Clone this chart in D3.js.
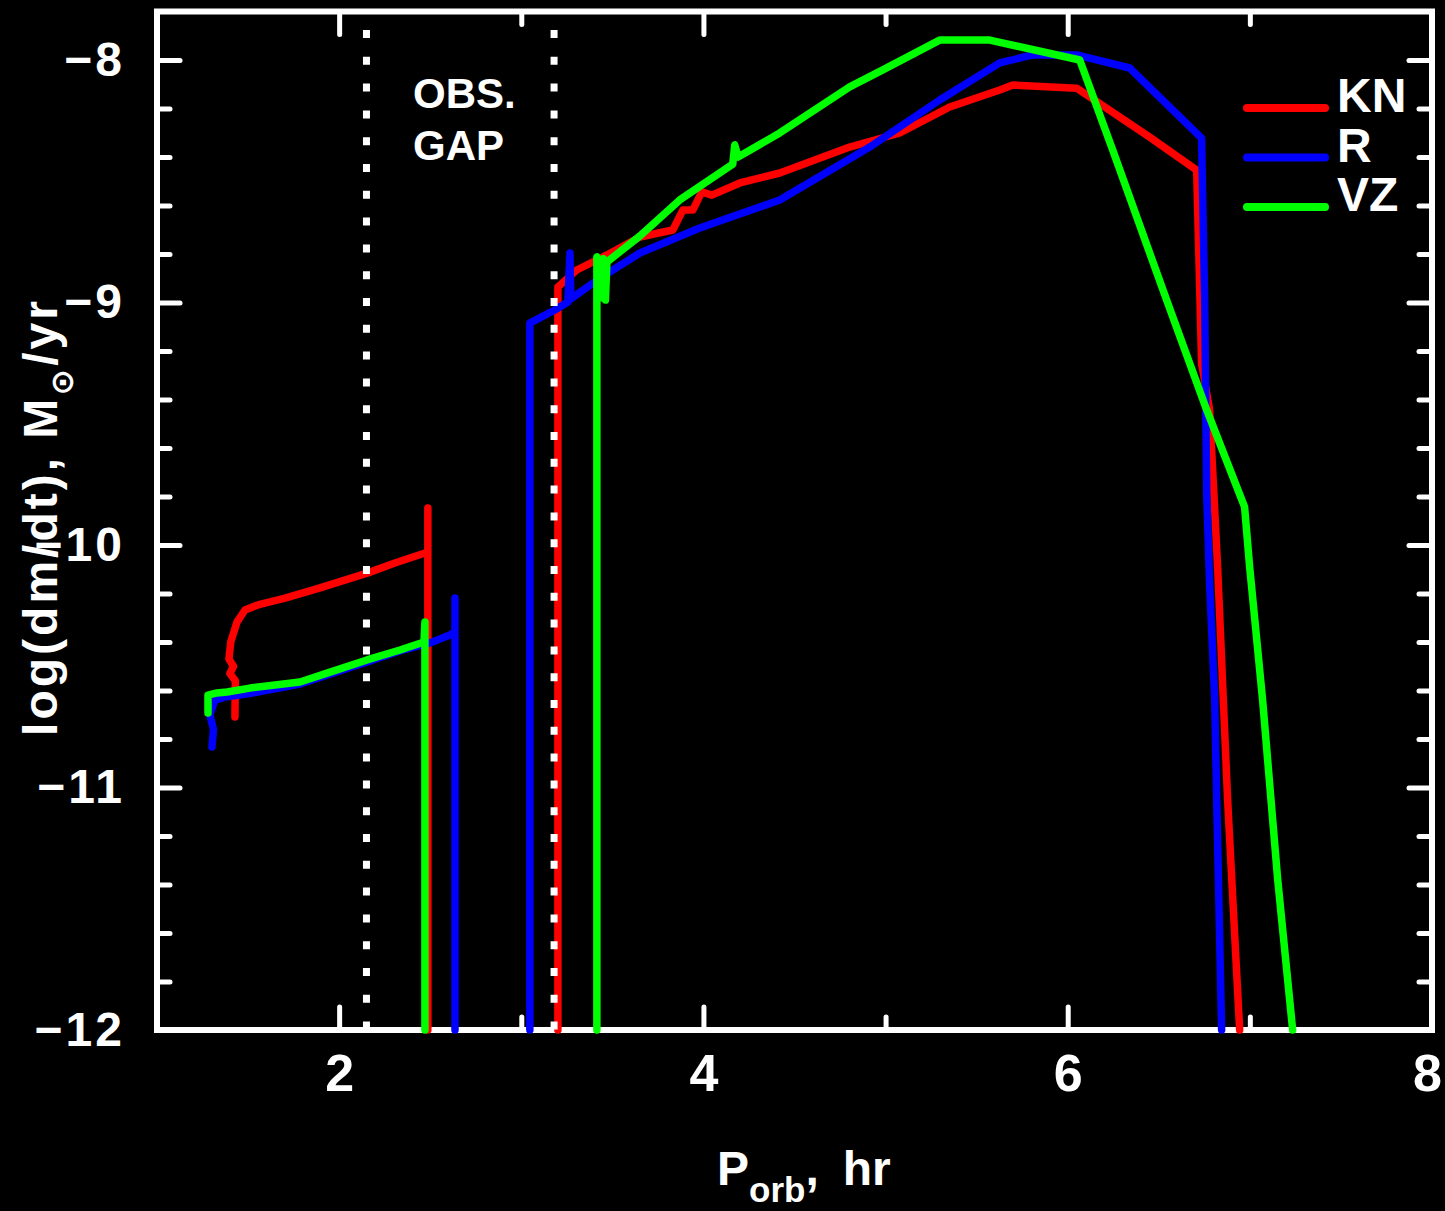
<!DOCTYPE html>
<html>
<head>
<meta charset="utf-8">
<script src="https://cdn.jsdelivr.net/npm/d3@7"></script>
<style>
  html, body { margin: 0; padding: 0; background: #000; }
  svg { display: block; }
  text { font-family: "Liberation Sans", Arial, Helvetica, sans-serif; font-weight: bold; fill: #fff; }
</style>
</head>
<body>
<svg id="chart" width="1445" height="1211"></svg>
<script>
// Mass-transfer rate tracks, log(dm/dt) [Msun/yr] versus orbital period [hr].
// Each model has a long-period branch (above the gap) and a short-period branch.
const seriesNames = ["KN", "R", "VZ"];

const knLong = [
  [6.944, -12], [6.878, -11.052], [6.823, -10.091], [6.779, -9.443], [6.735, -9.250],
  [6.708, -8.454], [6.450, -8.318], [6.049, -8.116], [5.698, -8.103], [5.627, -8.124],
  [5.352, -8.194], [5.078, -8.301], [4.803, -8.359], [4.419, -8.466], [4.200, -8.507],
  [4.046, -8.557], [3.991, -8.544], [3.942, -8.619], [3.887, -8.619], [3.832, -8.701],
  [3.651, -8.730], [3.470, -8.804], [3.305, -8.866], [3.201, -8.936], [3.201, -12]
];
const knShort = [
  [2.487, -12], [2.487, -9.847], [2.487, -10.033], [2.471, -10.033], [2.306, -10.074],
  [2.158, -10.115], [1.895, -10.177], [1.703, -10.219], [1.554, -10.247], [1.483, -10.268],
  [1.439, -10.318], [1.405, -10.400], [1.395, -10.470], [1.420, -10.500], [1.400, -10.530],
  [1.430, -10.560], [1.428, -10.709]
];

const rLong = [
  [6.845, -12], [6.818, -11.052], [6.807, -10.639], [6.779, -10.157], [6.763, -9.786],
  [6.752, -8.990], [6.735, -8.322], [6.340, -8.033], [6.049, -7.979], [5.808, -7.979],
  [5.627, -8.012], [5.297, -8.165], [4.913, -8.359], [4.419, -8.577], [3.980, -8.693],
  [3.651, -8.796], [3.431, -8.900], [3.272, -8.985], [3.267, -8.796], [3.256, -8.998],
  [3.184, -9.031], [3.130, -9.052], [3.047, -9.085], [3.047, -12]
];
const rShort = [
  [2.636, -12], [2.636, -10.219], [2.636, -10.359], [2.608, -10.371], [2.498, -10.404],
  [2.334, -10.437], [2.153, -10.482], [1.785, -10.573], [1.527, -10.610], [1.373, -10.627],
  [1.318, -10.640], [1.290, -10.700], [1.310, -10.760], [1.302, -10.833]
];

const vzLong = [
  [7.235, -12], [7.153, -11.381], [7.070, -10.639], [6.999, -10.091], [6.971, -9.843],
  [6.763, -9.443], [6.543, -8.990], [6.247, -8.371], [6.066, -8.000], [5.572, -7.918],
  [5.297, -7.918], [4.985, -8.041], [4.803, -8.111], [4.419, -8.301], [4.190, -8.400],
  [4.172, -8.350], [4.161, -8.429], [3.870, -8.577], [3.651, -8.726], [3.470, -8.833],
  [3.462, -8.990], [3.450, -8.820], [3.438, -8.980], [3.426, -8.830], [3.415, -8.812],
  [3.415, -12]
];
const vzShort = [
  [2.471, -12], [2.471, -10.318], [2.466, -10.400], [2.334, -10.433], [2.153, -10.474],
  [1.950, -10.524], [1.785, -10.565], [1.510, -10.590], [1.384, -10.606], [1.329, -10.610],
  [1.280, -10.619], [1.280, -10.693]
];

// Observed period gap boundaries [hr]
const gapBounds = [2.15, 3.18];

// Axis ticks
const xTicksMajor = [2, 4, 6, 8];
const xTicksMinor = [1, 3, 5, 7];
const yTicksMajor = [-12, -11, -10, -9, -8];
const yTicksMinor = [-11.8, -11.6, -11.4, -11.2, -10.8, -10.6, -10.4, -10.2,
                     -9.8, -9.6, -9.4, -9.2, -8.8, -8.6, -8.4, -8.2];

const series = [
  { name: seriesNames[0], branches: [knLong, knShort] },
  { name: seriesNames[1], branches: [rLong, rShort] },
  { name: seriesNames[2], branches: [vzLong, vzShort] }
];
const colorOf = { KN: "#ff0000", R: "#0000ff", VZ: "#00ff00" };

const svg = d3.select("#chart");
const x = d3.scaleLinear().domain([1, 8]).range([157, 1432]);
const y = d3.scaleLinear().domain([-12, -7.8]).range([1030, 11.5]);

function styleAxis(g, fontSize) {
  g.select(".domain").remove();
  g.attr("color", "#fff")
   .attr("font-family", "'Liberation Sans', Arial, sans-serif")
   .attr("font-weight", "bold")
   .attr("font-size", fontSize);
  g.selectAll(".tick line")
   .attr("stroke-width", 5)
   .attr("stroke-linecap", "round");
}

const fmt = d3.format("d");
const majorLen = -23, minorLen = -13;

// Bottom axis
svg.append("g").attr("transform", `translate(0,${y(-12)})`)
  .call(d3.axisBottom(x).tickValues(xTicksMajor).tickSize(majorLen).tickPadding(24).tickFormat(fmt))
  .call(g => styleAxis(g, 52))
  .call(g => g.selectAll(".tick text").filter(d => d === 8).attr("dx", -5));
svg.append("g").attr("transform", `translate(0,${y(-12)})`)
  .call(d3.axisBottom(x).tickValues(xTicksMinor).tickSize(minorLen).tickFormat(""))
  .call(g => styleAxis(g, 10));
// Top axis
svg.append("g").attr("transform", `translate(0,${y(-7.8)})`)
  .call(d3.axisTop(x).tickValues(xTicksMajor).tickSize(majorLen).tickFormat(""))
  .call(g => styleAxis(g, 10));
svg.append("g").attr("transform", `translate(0,${y(-7.8)})`)
  .call(d3.axisTop(x).tickValues(xTicksMinor).tickSize(minorLen).tickFormat(""))
  .call(g => styleAxis(g, 10));
// Left axis
svg.append("g").attr("transform", `translate(${x(1)},0)`)
  .call(d3.axisLeft(y).tickValues(yTicksMajor).tickSize(majorLen).tickPadding(32).tickFormat(fmt))
  .call(g => styleAxis(g, 48))
  .selectAll(".tick text").attr("letter-spacing", 3);
svg.append("g").attr("transform", `translate(${x(1)},0)`)
  .call(d3.axisLeft(y).tickValues(yTicksMinor).tickSize(minorLen).tickFormat(""))
  .call(g => styleAxis(g, 10));
// Right axis
svg.append("g").attr("transform", `translate(${x(8)},0)`)
  .call(d3.axisRight(y).tickValues(yTicksMajor).tickSize(majorLen).tickFormat(""))
  .call(g => styleAxis(g, 10));
svg.append("g").attr("transform", `translate(${x(8)},0)`)
  .call(d3.axisRight(y).tickValues(yTicksMinor).tickSize(minorLen).tickFormat(""))
  .call(g => styleAxis(g, 10));

// Frame
svg.append("rect")
  .attr("x", x(1)).attr("y", y(-7.8))
  .attr("width", x(8) - x(1)).attr("height", y(-12) - y(-7.8))
  .attr("fill", "none").attr("stroke", "#fff").attr("stroke-width", 6);

// Tracks
const line = d3.line().x(d => x(d[0])).y(d => y(d[1]));
svg.append("g").selectAll("g.track")
  .data(series).join("g").attr("class", "track")
  .each(function (s) {
    d3.select(this).selectAll("path")
      .data(s.branches).join("path")
      .attr("d", line)
      .attr("fill", "none")
      .attr("stroke", colorOf[s.name])
      .attr("stroke-width", 7.5)
      .attr("stroke-linejoin", "round")
      .attr("stroke-linecap", "round");
  });

// Period-gap markers
svg.append("g").selectAll("line")
  .data(gapBounds).join("line")
  .attr("x1", d => x(d)).attr("x2", d => x(d))
  .attr("y1", y(-7.8)).attr("y2", y(-12))
  .attr("stroke", "#fff").attr("stroke-width", 7)
  .attr("stroke-dasharray", "8 18.8")
  .attr("stroke-dashoffset", 8.3);

const gapLabel = svg.append("g").attr("font-size", 42);
gapLabel.append("text").attr("x", 413).attr("y", 108).text("OBS.");
gapLabel.append("text").attr("x", 413).attr("y", 160).text("GAP");

// Legend
const legend = svg.append("g").selectAll("g")
  .data(series).join("g")
  .attr("transform", (d, i) => `translate(1247,${108 + i * 49.5})`);
legend.append("line")
  .attr("x1", 0).attr("x2", 78).attr("y1", 0).attr("y2", 0)
  .attr("stroke", d => colorOf[d.name]).attr("stroke-width", 8)
  .attr("stroke-linecap", "round");
legend.append("text")
  .attr("x", 90).attr("y", 4)
  .attr("font-size", 48)
  .text(d => d.name);

// Axis titles
const xTitle = svg.append("text").attr("x", 717).attr("y", 1185).attr("font-size", 48);
xTitle.append("tspan").text("P");
xTitle.append("tspan").attr("dy", 17).attr("font-size", 35).text("orb");
xTitle.append("tspan").attr("dy", -17).text(",");
xTitle.append("tspan").attr("dx", 24).text("hr");

const yTitle = svg.append("text")
  .attr("transform", "translate(57,517) rotate(-90)")
  .attr("text-anchor", "middle")
  .attr("font-size", 48)
  .attr("letter-spacing", 3);
yTitle.append("tspan").text("log(dm/dt), M");
yTitle.append("tspan").attr("dy", 16).attr("font-size", 32)
  .attr("font-family", "'DejaVu Sans', sans-serif").text("\u2299");
yTitle.append("tspan").attr("dy", -16).text("/yr");
</script>
</body>
</html>
